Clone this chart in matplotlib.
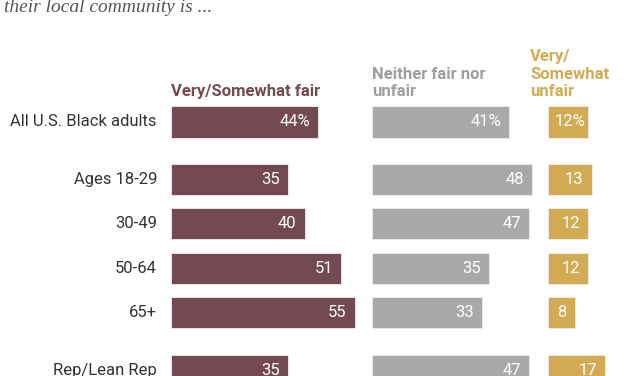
import matplotlib
matplotlib.use("Agg")
import matplotlib.pyplot as plt
from matplotlib import font_manager

# ==========================
# data
# ==========================
categories = ["All U.S. Black adults", "Ages 18-29", "30-49", "50-64", "65+", "Rep/Lean Rep"]
row_pos = [0, 1.30, 2.30, 3.30, 4.30, 5.60]
fair = [44, 35, 40, 51, 55, 35]
neither = [41, 48, 47, 35, 33, 47]
unfair = [12, 13, 12, 12, 8, 17]
headers = ["Very/Somewhat fair", "Neither fair nor\nunfair", "Very/\nSomewhat\nunfair"]

# ==========================
# style
# ==========================
names = {f.name for f in font_manager.fontManager.ttflist}
narrow = "Liberation Sans Narrow" if "Liberation Sans Narrow" in names else "Roboto"
plt.rcParams["font.family"] = [narrow, "DejaVu Sans"]

c_fair = "#744a52"
c_neither = "#a8a9ab"
c_unfair = "#d2ab52"
offsets = [0, 60.2, 112.9]   # where each column of bars starts
header_x = [0, 60.2, 107.5]  # gold header sits a little left of its bars
px = 3.34                     # pixels per percentage point

fig = plt.figure(figsize=(6.27, 3.76), dpi=100)
ax = fig.add_axes([171 / 627, 0, 456 / 627, 1])
ax.set_xlim(0, 456 / px)
ax.set_ylim(5.734, -2.754)
ax.axis("off")

pad = 8 / px
for vals, off, col in zip([fair, neither, unfair], offsets, [c_fair, c_neither, c_unfair]):
    ax.barh(row_pos, vals, left=off, height=0.70, color=col, edgecolor="#eeeeee", linewidth=0.6)
    for i, (y, v) in enumerate(zip(row_pos, vals)):
        label = f"{v}%" if i == 0 else str(v)
        p = pad if not (i == 0 and off == offsets[2]) else 3 / px
        ax.text(off + v - p, y, label, color="white", fontsize=12,
                ha="right", va="center")

for y, name in zip(row_pos, categories):
    ax.text(-14 / px, y, name, color="#333333", fontsize=12, ha="right", va="center")

for txt, hx, col in zip(headers, header_x, [c_fair, "#9d9ea0", c_unfair]):
    ax.text(hx, -0.52, txt, color=col, fontsize=12, fontweight="bold",
            ha="left", va="bottom", linespacing=1.2)

fig.text(4 / 627, 1 - 12 / 376, "their local community is ...", family="Liberation Serif",
         style="italic", fontsize=14, color="#555555", ha="left", va="baseline")

fig.savefig("out.png", dpi=100)
